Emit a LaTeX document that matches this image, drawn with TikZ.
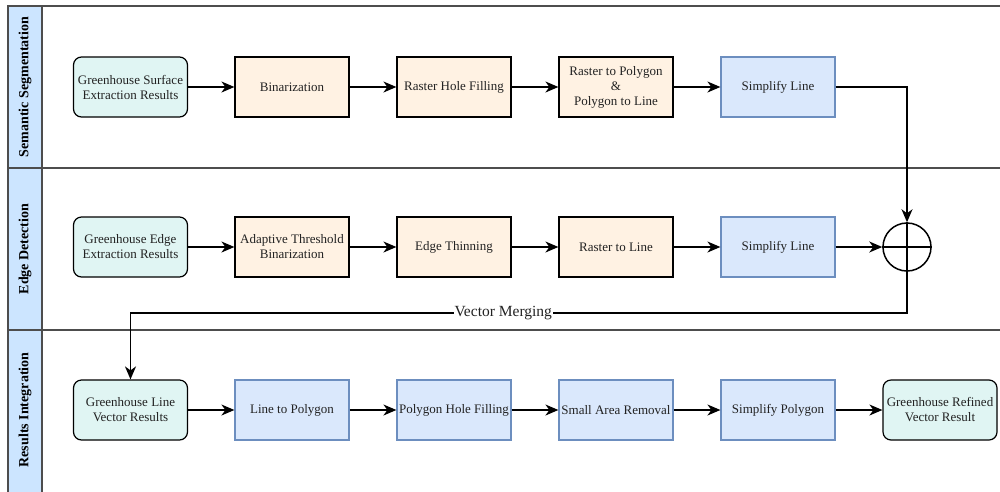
\documentclass[tikz,border=0pt]{standalone}
\usepackage{fontspec}
\setmainfont{Liberation Serif}
\usetikzlibrary{arrows.meta}
\definecolor{hdrfill}{HTML}{CCE5FF}
\definecolor{orfill}{HTML}{FFF2E3}
\definecolor{cyfill}{HTML}{E0F5F3}
\definecolor{blfill}{HTML}{DAE8FC}
\definecolor{blline}{HTML}{6C8EBF}
\definecolor{frame}{HTML}{4D4D4D}
\definecolor{txt}{HTML}{222222}
\tikzset{
  base/.style={minimum width=114pt, minimum height=60pt, align=center, font=\fontsize{13}{15}\selectfont, text=txt, inner sep=1pt},
  orbox/.style={base, draw=black, fill=orfill, line width=1.2pt},
  blbox/.style={base, draw=blline, fill=blfill, line width=1.2pt},
  cybox/.style={base, draw=black, fill=cyfill, line width=1.2pt, rounded corners=8pt},
  conn/.style={line width=1.5pt, -{Stealth[length=13pt,width=11pt,inset=4pt]}},
  lane/.style={draw=frame, line width=1.2pt},
  hdr/.style={rotate=90, font=\fontsize{14}{16}\selectfont\bfseries},
}
\begin{document}
\begin{tikzpicture}[x=1pt,y=-1pt]
\useasboundingbox (0,0) rectangle (1000,491);
\begin{scope}
\clip (0,0) rectangle (1000,491);
\fill[hdrfill] (8,6) rectangle (42,495);
\draw[lane] (1010,6) -- (8,6) -- (8,495);
\draw[lane] (42,6) -- (42,495);
\draw[lane] (8,168) -- (1010,168);
\draw[lane] (8,330) -- (1010,330);
\end{scope}
\node[hdr] (h1) at (25,87) {Semantic Segmentation};
\node[hdr] (h2) at (25,249) {Edge Detection};
\node[hdr] (h3) at (25,410) {Results Integration};
% row 1
\node[cybox] (a1) at (130.5,87) {Greenhouse Surface\\Extraction Results};
\node[orbox] (a2) at (292,87) {Binarization};
\node[orbox] (a3) at (454,87) {Raster Hole Filling};
\node[orbox] (a4) at (616,87) {Raster to Polygon\\\&\\Polygon to Line};
\node[blbox] (a5) at (778,87) {Simplify Line};
% row 2
\node[cybox] (b1) at (130.5,247) {Greenhouse Edge\\Extraction Results};
\node[orbox] (b2) at (292,247) {Adaptive Threshold\\Binarization};
\node[orbox] (b3) at (454,247) {Edge Thinning};
\node[orbox] (b4) at (616,247) {Raster to Line};
\node[blbox] (b5) at (778,247) {Simplify Line};
\node[circle, draw=black, line width=1.5pt, minimum size=48pt, inner sep=0pt] (m) at (907,247) {};
\draw[line width=1.5pt] (m.north) -- (m.south) (m.west) -- (m.east);
% row 3
\node[cybox] (c1) at (130.5,410) {Greenhouse Line\\Vector Results};
\node[blbox] (c2) at (292,410) {Line to Polygon};
\node[blbox] (c3) at (454,410) {Polygon Hole Filling};
\node[blbox] (c4) at (616,410) {Small Area Removal};
\node[blbox] (c5) at (778,410) {Simplify Polygon};
\node[cybox] (c6) at (940,410) {Greenhouse Refined\\Vector Result};
% connectors
\draw[conn] (a1) -- (a2);
\draw[conn] (a2) -- (a3);
\draw[conn] (a3) -- (a4);
\draw[conn] (a4) -- (a5);
\draw[conn] (a5.east) -| (m.north);
\draw[conn] (b1) -- (b2);
\draw[conn] (b2) -- (b3);
\draw[conn] (b3) -- (b4);
\draw[conn] (b4) -- (b5);
\draw[conn] (b5) -- (m.west);
\coordinate (v1) at (907,313);
\coordinate (v2) at (130.5,313);
\draw[conn] (m.south) -- (v1) -- node[fill=white, inner sep=1pt, text=txt, font=\fontsize{15.5}{17}\selectfont, pos=0.52] (vm) {Vector Merging} (v2) -- (c1.north);
\draw[conn] (c1) -- (c2);
\draw[conn] (c2) -- (c3);
\draw[conn] (c3) -- (c4);
\draw[conn] (c4) -- (c5);
\draw[conn] (c5) -- (c6);
\end{tikzpicture}
\end{document}
